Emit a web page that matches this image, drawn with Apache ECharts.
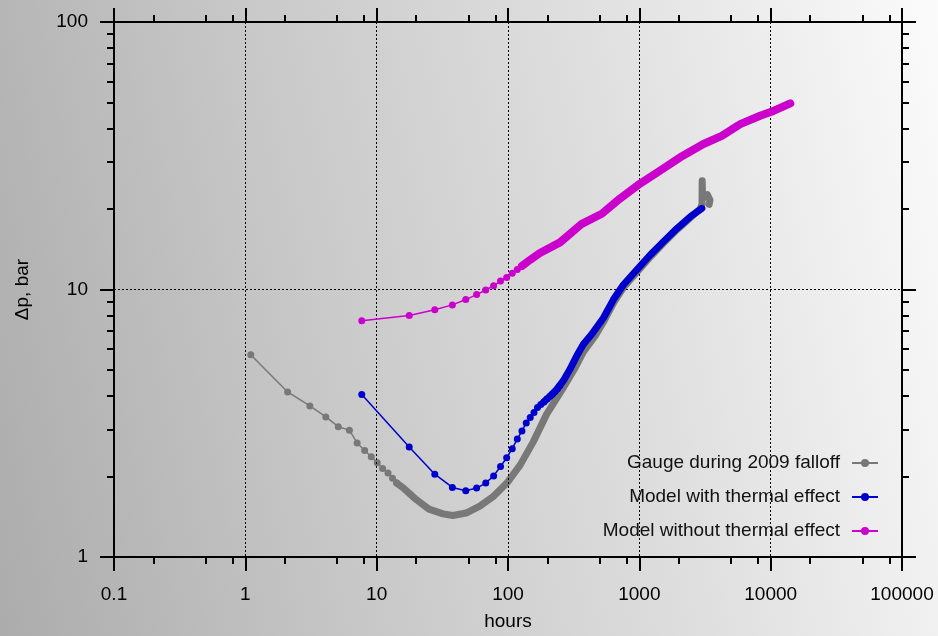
<!DOCTYPE html>
<html>
<head>
<meta charset="utf-8">
<script src="https://cdn.jsdelivr.net/npm/echarts@6/dist/echarts.min.js"></script>
<style>
  html, body { margin: 0; padding: 0; }
  #chart {
    width: 938px; height: 636px;
    background: linear-gradient(78deg, #acacac 0%, #c8c8c8 35%, #dedede 65%, #fbfbfb 100%);
  }
</style>
</head>
<body>
<div id="chart"></div>
<script>
// tick labels
const xMajor = [0.1, 1, 10, 100, 1000, 10000, 100000];
const yMajor = [1, 10, 100];
const xMinor = [0.2, 0.5, 0.8, 2, 5, 8, 20, 50, 80, 200, 500, 800, 2000, 5000, 8000, 20000, 50000, 80000];
const yMinor = [2, 3, 4, 5, 6, 7, 8, 9, 20, 30, 40, 50, 60, 70, 80, 90];

const names = ['Gauge during 2009 falloff', 'Model with thermal effect', 'Model without thermal effect'];

// gauge: hourly points, early part (visible dots)
const gaugeHoursA = [1.1, 2.1, 3.1, 4.1, 5.1, 6.2, 7.1, 8.1, 9.1, 10.1, 11.1, 12.2, 13.2, 14.2];
const gaugeDpA = [5.70, 4.14, 3.67, 3.34, 3.07, 2.98, 2.67, 2.50, 2.37, 2.25, 2.14, 2.06, 1.97, 1.89];
// gauge: dense part (dots merge into a thick line)
const gaugeHoursB = [14.2, 16, 20, 25, 32, 38, 48, 61, 77, 98, 124, 156, 197, 264, 325, 375, 461, 540, 640, 765, 965, 1215, 1535, 1940, 2450, 2900, 3000, 3010, 3030, 3300, 3450, 3400];
const gaugeDpB = [1.89, 1.81, 1.64, 1.51, 1.45, 1.43, 1.46, 1.55, 1.68, 1.89, 2.21, 2.7, 3.42, 4.3, 5.1, 5.85, 6.7, 7.65, 8.95, 10.25, 11.65, 13.25, 14.95, 16.75, 18.55, 20.0, 20.8, 25.5, 21.8, 22.6, 21.6, 20.8];

// model with thermal effect, 10 h steps
const thermHoursA = [7.7, 17.7, 27.7, 37.7, 47.7, 57.7, 67.7, 77.7, 87.7, 97.7, 107.7, 117.7, 127.7, 137.7, 147.7, 157.7, 167.7, 177.7, 187.7, 197.7, 207.7, 217.7, 227.7, 237.7, 247.7];
const thermDpA = [4.05, 2.58, 2.04, 1.82, 1.77, 1.81, 1.89, 2.01, 2.18, 2.35, 2.54, 2.76, 2.96, 3.17, 3.32, 3.47, 3.62, 3.72, 3.80, 3.90, 3.98, 4.06, 4.15, 4.25, 4.37];
const thermHoursB = [187.7, 209, 236, 264, 297, 334, 375, 434, 534, 635, 757, 957, 1209, 1527, 1931, 2439, 2993];
const thermDpB = [3.80, 3.99, 4.24, 4.56, 5.04, 5.65, 6.24, 6.80, 7.84, 9.17, 10.42, 11.85, 13.46, 15.1, 16.9, 18.7, 20.1];

// model without thermal effect
const noThermHoursA = [7.7, 17.7, 27.7, 37.7, 47.7, 57.7, 67.7, 77.7, 87.7, 97.7, 107.7, 117.7, 127.7];
const noThermDpA = [7.64, 8.0, 8.40, 8.76, 9.17, 9.57, 9.96, 10.33, 10.75, 11.09, 11.5, 11.88, 12.25];
const noThermHoursB = [127.7, 147, 175, 249, 365, 518, 714, 1014, 1439, 2046, 3078, 4246, 5863, 8318, 10500, 14100];
const noThermDpB = [12.25, 12.9, 13.7, 15.0, 17.6, 19.2, 21.9, 24.9, 27.8, 31.2, 35.0, 37.5, 41.5, 44.6, 46.5, 49.6];

const colors = ['#787878', '#0000cc', '#cc00cc'];
const FONT = 'Liberation Sans, Arial, Helvetica, sans-serif';

function zip(xs, ys) { return xs.map((x, i) => [x, ys[i]]); }
function fmt(v) { return String(+(+v).toPrecision(6)); }

function axisOf(dim, pos, ticks, len, major) {
  const lo = dim === 'x' ? 0.1 : 1;
  const hi = dim === 'x' ? 100000 : 100;
  const a = {
    type: 'log', logBase: 10, min: lo, max: hi, position: pos,
    axisLine: { show: true, onZero: false, lineStyle: { color: '#000', width: 2 } },
    axisTick: { show: true, customValues: ticks, length: len, lineStyle: { color: '#000', width: 2 } },
    axisLabel: { show: false },
    splitLine: { show: false },
    minorTick: { show: false },
    z: 3
  };
  if (major) {
    a.axisLabel = {
      show: true, customValues: dim === 'x' ? xMajor : yMajor,
      formatter: fmt, fontSize: 19, fontFamily: FONT, color: '#000',
      margin: dim === 'x' ? 28 : 26
    };
    a.splitLine = { show: true, lineStyle: { color: '#000', width: 1, type: [2, 2] } };
    a.nameLocation = 'middle';
    a.nameTextStyle = { fontSize: 19, fontFamily: FONT, color: '#000' };
    if (dim === 'x') { a.name = 'hours'; a.nameGap = 55; }
    else { a.name = 'Δp, bar'; a.nameGap = 82; }
  }
  return a;
}

function sparse(i, data) {
  return {
    name: names[i], type: 'line', data: data,
    xAxisIndex: 0, yAxisIndex: 0,
    symbol: 'circle', symbolSize: 7, showSymbol: true, showAllSymbol: true,
    itemStyle: { color: colors[i] },
    lineStyle: { color: colors[i], width: 1.5 },
    emphasis: { disabled: true }, z: 2 + i
  };
}
function dense(i, data, w) {
  return {
    name: names[i], type: 'line', data: data,
    xAxisIndex: 0, yAxisIndex: 0,
    showSymbol: false, symbol: 'none',
    itemStyle: { color: colors[i] },
    lineStyle: { color: colors[i], width: w, cap: 'round', join: 'round' },
    emphasis: { disabled: true }, z: 2 + i
  };
}

const chart = echarts.init(document.getElementById('chart'), null, { renderer: 'canvas' });
chart.setOption({
  animation: false,
  backgroundColor: 'transparent',
  grid: { left: 114, right: 36, top: 22, bottom: 75, containLabel: false },
  xAxis: [
    axisOf('x', 'bottom', xMajor, 14, true),
    axisOf('x', 'bottom', xMinor, 7, false),
    axisOf('x', 'top', xMajor, 14, false),
    axisOf('x', 'top', xMinor, 7, false)
  ],
  yAxis: [
    axisOf('y', 'left', yMajor, 14, true),
    axisOf('y', 'left', yMinor, 7, false),
    axisOf('y', 'right', yMajor, 14, false),
    axisOf('y', 'right', yMinor, 7, false)
  ],
  legend: {
    data: names, orient: 'vertical', align: 'right',
    right: 54, top: 448, itemGap: 14, itemWidth: 26, itemHeight: 10,
    textStyle: { fontSize: 19, fontFamily: FONT, color: '#111', lineHeight: 20, padding: [0, 7, 0, 0] },
    selectedMode: false
  },
  series: [
    sparse(0, zip(gaugeHoursA, gaugeDpA)),
    dense(0, zip(gaugeHoursB, gaugeDpB), 7),
    sparse(1, zip(thermHoursA, thermDpA)),
    dense(1, zip(thermHoursB, thermDpB), 7),
    sparse(2, zip(noThermHoursA, noThermDpA)),
    dense(2, zip(noThermHoursB, noThermDpB), 8)
  ]
});
</script>
</body>
</html>
